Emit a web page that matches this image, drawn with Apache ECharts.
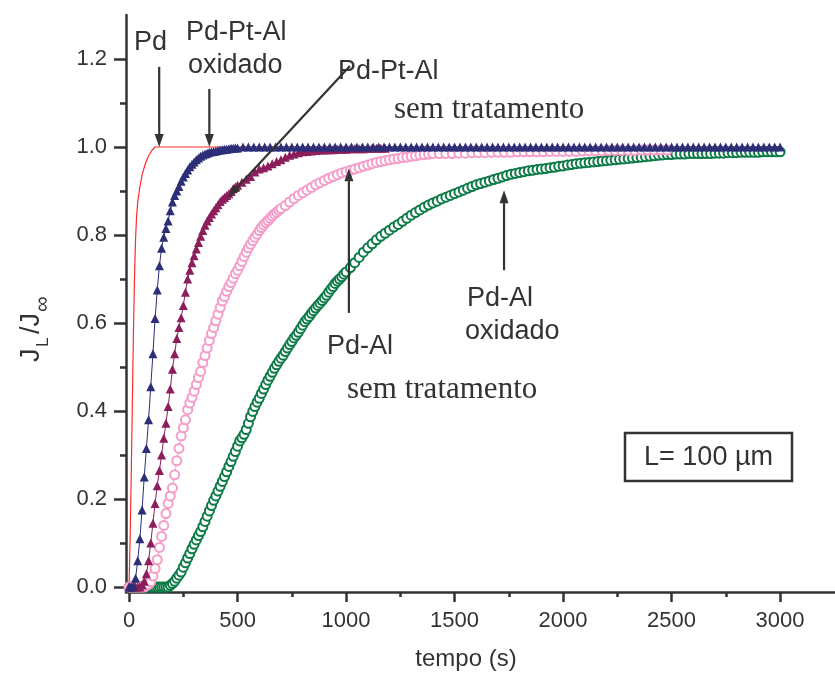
<!DOCTYPE html>
<html>
<head>
<meta charset="utf-8">
<script src="https://cdn.jsdelivr.net/npm/echarts@6/dist/echarts.min.js"></script>
<style>
html,body{margin:0;padding:0;background:#fff;}
#chart{width:835px;height:677px;}
</style>
</head>
<body>
<div id="chart"></div>
<script>
// ---- tick definitions ----
const xMajorTicks = [0, 500, 1000, 1500, 2000, 2500, 3000];
const xMinorTicks = [250, 750, 1250, 1750, 2250, 2750];
const yMajorTicks = [0, 0.2, 0.4, 0.6, 0.8, 1.0, 1.2];
const yMinorTicks = [0.1, 0.3, 0.5, 0.7, 0.9, 1.1];

// ---- data: [tempo (s), J_L/J_inf] ----
const pdData = [[0,0],[5,0.11],[10,0.25],[15,0.41],[20,0.57],[25,0.70],[30,0.79],[35,0.845],[40,0.875],[50,0.91],[60,0.936],[75,0.962],[90,0.98],[105,0.992],[120,1.0],[3000,1.0]];

const pdPtAlOxData = [[0,0],[10,0],[20,0.002],[30,0.02],[40,0.06],[50,0.11],[60,0.175],[70,0.25],[80,0.315],[90,0.38],[100,0.455],[110,0.53],[120,0.61],[130,0.675],[140,0.73],[150,0.77],[160,0.795],[170,0.815],[180,0.832],[190,0.855],[200,0.875],[210,0.89],[220,0.9],[230,0.91],[240,0.922],[250,0.932],[260,0.94],[270,0.948],[280,0.955],[290,0.961],[300,0.966],[310,0.971],[320,0.975],[330,0.979],[340,0.982],[350,0.984],[360,0.986],[370,0.988],[380,0.989],[390,0.99],[400,0.991],[410,0.992],[420,0.993],[430,0.994],[440,0.995],[450,0.995],[460,0.996],[470,0.997],[480,0.997],[490,0.998],[500,0.998],
[525,1],[550,1],[575,1],[600,1],[625,1],[650,1],[675,1],[700,1],[725,1],[750,1],[775,1],[800,1],[825,1],[850,1],[875,1],[900,1],[925,1],[950,1],[975,1],[1000,1],[1025,1],[1050,1],[1075,1],[1100,1],[1125,1],[1150,1],[1175,1],[1200,1],[1225,1],[1250,1],[1275,1],[1300,1],[1325,1],[1350,1],[1375,1],[1400,1],[1425,1],[1450,1],[1475,1],[1500,1],[1525,1],[1550,1],[1575,1],[1600,1],[1625,1],[1650,1],[1675,1],[1700,1],[1725,1],[1750,1],[1775,1],[1800,1],[1825,1],[1850,1],[1875,1],[1900,1],[1925,1],[1950,1],[1975,1],[2000,1],[2025,1],[2050,1],[2075,1],[2100,1],[2125,1],[2150,1],[2175,1],[2200,1],[2225,1],[2250,1],[2275,1],[2300,1],[2325,1],[2350,1],[2375,1],[2400,1],[2425,1],[2450,1],[2475,1],[2500,1],[2525,1],[2550,1],[2575,1],[2600,1],[2625,1],[2650,1],[2675,1],[2700,1],[2725,1],[2750,1],[2775,1],[2800,1],[2825,1],[2850,1],[2875,1],[2900,1],[2925,1],[2950,1],[2975,1],[3000,1]];

const pdPtAlData = [[0,0],[10,0],[20,0],[30,0],[40,0],[50,0],[60,0.005],[70,0.013],[80,0.03],[90,0.06],[100,0.1],[110,0.145],[120,0.19],[130,0.23],[140,0.265],[150,0.3],[160,0.338],[170,0.372],[180,0.41],[190,0.45],[200,0.495],[210,0.53],[220,0.565],[230,0.59],[240,0.612],[250,0.64],[260,0.67],[270,0.7],[280,0.72],[290,0.737],[300,0.753],[310,0.768],[320,0.783],[330,0.797],[340,0.81],[350,0.822],[360,0.832],[370,0.84],[380,0.848],[390,0.855],[400,0.862],[410,0.869],[420,0.876],[430,0.881],[440,0.885],[450,0.89],[460,0.894],[470,0.899],[480,0.905],[490,0.909],[500,0.913],[520,0.92],[540,0.927],[560,0.933],[580,0.943],[600,0.95],[620,0.953],[640,0.957],[660,0.962],[680,0.967],[700,0.971],[720,0.977],[740,0.981],[760,0.984],[780,0.987],[800,0.989],[820,0.99],[840,0.991],[860,0.992],[880,0.993],[900,0.993],[920,0.994],[940,0.994],[960,0.995],[980,0.995],[1000,0.995],[1020,0.996],[1040,0.996],[1060,0.996],[1080,0.996],[1100,0.997],[1120,0.997],[1140,0.997],[1160,0.997],[1180,0.997]];

const pdAlData = [[0,0],[10,0],[20,0],[30,0],[40,0],[50,0],[60,0],[70,0],[80,0.003],[90,0.006],[100,0.012],[110,0.025],[120,0.042],[130,0.062],[140,0.09],[150,0.115],[160,0.14],[170,0.167],[180,0.19],[190,0.207],[200,0.225],[210,0.255],[220,0.287],[230,0.315],[240,0.343],[250,0.362],[260,0.38],[270,0.403],[280,0.418],[290,0.431],[300,0.445],[310,0.46],[320,0.476],[330,0.49],[340,0.51],[350,0.526],[360,0.543],[370,0.56],[380,0.576],[390,0.59],[400,0.605],[410,0.62],[420,0.635],[430,0.65],[440,0.66],[450,0.672],[460,0.683],[470,0.692],[480,0.702],[490,0.712],[500,0.72],[510,0.73],[520,0.74],[530,0.751],[540,0.761],[550,0.771],[560,0.779],[570,0.787],[580,0.795],[590,0.802],[600,0.81],[610,0.817],[620,0.823],[630,0.828],[640,0.833],[650,0.838],[660,0.843],[670,0.848],[680,0.852],[690,0.856],[700,0.86],[720,0.867],[740,0.875],[760,0.883],[780,0.89],[800,0.896],[820,0.902],[840,0.908],[860,0.914],[880,0.919],[900,0.924],[920,0.929],[940,0.933],[960,0.937],[980,0.941],[1000,0.944],[1020,0.947],[1040,0.95],[1060,0.953],[1080,0.956],[1100,0.959],[1120,0.962],[1140,0.965],[1160,0.967],[1180,0.969],[1200,0.971],[1220,0.973],[1240,0.974],[1260,0.976],[1280,0.977],[1300,0.979],[1320,0.98],[1340,0.982],[1360,0.983],[1380,0.984],[1400,0.985],[1430,0.985],[1460,0.985],[1490,0.985],[1520,0.986],[1550,0.986],[1580,0.987],[1610,0.987],[1640,0.987],[1670,0.988],[1700,0.988],[1730,0.988],[1760,0.988],[1790,0.989],[1820,0.989],[1850,0.989],[1880,0.989],[1910,0.989],[1940,0.99],[1970,0.99],[2000,0.99],[2030,0.99],[2060,0.99],[2090,0.991],[2120,0.991],[2150,0.991],[2180,0.991],[2210,0.992],[2240,0.992],[2270,0.992],[2300,0.992],[2330,0.992],[2360,0.993],[2390,0.993],[2420,0.993],[2450,0.993],[2480,0.993]];

const pdAlOxData = [[0,0],[10,0],[20,0],[30,0],[40,0],[50,0],[60,0],[70,0],[80,0],[90,0],[100,0],[110,0],[120,0],[130,0],[140,0],[150,0],[160,0],[170,0],[180,0],[190,0.004],[200,0.008],[210,0.013],[220,0.02],[230,0.027],[240,0.034],[250,0.045],[260,0.055],[270,0.066],[280,0.076],[290,0.087],[300,0.097],[310,0.107],[320,0.117],[330,0.126],[340,0.137],[350,0.149],[360,0.161],[370,0.173],[380,0.185],[390,0.197],[400,0.207],[410,0.218],[420,0.229],[430,0.24],[440,0.251],[450,0.262],[460,0.274],[470,0.285],[480,0.297],[490,0.308],[500,0.32],[510,0.332],[520,0.339],[530,0.347],[540,0.358],[550,0.372],[560,0.387],[570,0.399],[580,0.41],[590,0.42],[600,0.429],[610,0.44],[620,0.45],[630,0.46],[640,0.47],[650,0.479],[660,0.488],[670,0.497],[680,0.505],[690,0.513],[700,0.52],[710,0.527],[720,0.535],[730,0.543],[740,0.551],[750,0.558],[760,0.566],[770,0.572],[780,0.579],[790,0.587],[800,0.595],[810,0.603],[820,0.609],[830,0.615],[840,0.622],[850,0.628],[860,0.634],[870,0.64],[880,0.645],[890,0.651],[900,0.657],[910,0.663],[920,0.67],[930,0.677],[940,0.683],[950,0.69],[960,0.695],[970,0.7],[980,0.705],[990,0.711],[1000,0.716],[1020,0.726],[1040,0.737],[1060,0.749],[1080,0.761],[1100,0.771],[1120,0.78],[1140,0.789],[1160,0.797],[1180,0.804],[1200,0.811],[1220,0.818],[1240,0.824],[1260,0.831],[1280,0.838],[1300,0.845],[1320,0.851],[1340,0.857],[1360,0.863],[1380,0.868],[1400,0.873],[1420,0.877],[1440,0.882],[1460,0.886],[1480,0.89],[1500,0.894],[1520,0.898],[1540,0.902],[1560,0.906],[1580,0.91],[1600,0.914],[1620,0.917],[1640,0.92],[1660,0.923],[1680,0.926],[1700,0.929],[1720,0.932],[1740,0.935],[1760,0.938],[1780,0.94],[1800,0.942],[1820,0.944],[1840,0.946],[1860,0.947],[1880,0.949],[1900,0.95],[1920,0.951],[1940,0.953],[1960,0.954],[1980,0.956],[2000,0.957],[2020,0.959],[2040,0.96],[2060,0.962],[2080,0.963],[2100,0.964],[2120,0.965],[2140,0.966],[2160,0.967],[2180,0.968],[2200,0.969],[2220,0.97],[2240,0.971],[2260,0.972],[2280,0.973],[2300,0.974],[2320,0.975],[2340,0.976],[2360,0.977],[2380,0.978],[2400,0.979],[2420,0.98],[2440,0.981],[2460,0.982],[2480,0.983],[2500,0.983],[2520,0.984],[2540,0.984],[2560,0.984],[2580,0.985],[2600,0.985],[2620,0.985],[2640,0.985],[2660,0.985],[2680,0.985],[2700,0.986],[2720,0.986],[2740,0.986],[2760,0.987],[2780,0.987],[2800,0.987],[2820,0.988],[2840,0.988],[2860,0.988],[2880,0.988],[2900,0.988],[2920,0.989],[2940,0.989],[2960,0.989],[2980,0.989],[3000,0.989]];

// annotation arrows in data coordinates: [x1,y1] tail -> [x2,y2] head
const arrowPd = [[139, 1.182], [139, 1.0]];
const arrowPdPtAlOx = [[370, 1.132], [370, 1.0]];
const arrowPdPtAl = [[1018, 1.184], [456, 0.886]];
const arrowPdAl = [[1013, 0.623], [1013, 0.952]];
const arrowPdAlOx = [[1728, 0.72], [1728, 0.902]];

const AXIS = '#333333';
const SANS = 'Liberation Sans, Arial, sans-serif';
const SERIF = 'Liberation Serif, Times New Roman, serif';
const X_MIN = -14, X_MAX = 3253, Y_MIN = -0.0113, Y_MAX = 1.3;

const chart = echarts.init(document.getElementById('chart'), null, {renderer: 'canvas'});

function xAxisBase(extra) {
  return Object.assign({
    type: 'value', min: X_MIN, max: X_MAX, position: 'bottom',
    splitLine: {show: false}
  }, extra);
}
function yAxisBase(extra) {
  return Object.assign({
    type: 'value', min: Y_MIN, max: Y_MAX, position: 'left',
    splitLine: {show: false}
  }, extra);
}

const option = {
  animation: false,
  backgroundColor: '#ffffff',
  grid: {left: 126, right: 0, top: 15, bottom: 85, containLabel: false},
  xAxis: [
    xAxisBase({
      axisLine: {show: true, onZero: false, lineStyle: {color: AXIS, width: 2.5}},
      axisTick: {show: true, customValues: xMajorTicks, length: 10, lineStyle: {color: AXIS, width: 2.5}},
      axisLabel: {show: true, customValues: xMajorTicks, margin: 18, fontSize: 22, color: AXIS, fontFamily: SANS,
        formatter: v => String(Math.round(v))}
    }),
    xAxisBase({
      axisLine: {show: false, onZero: false},
      axisTick: {show: true, customValues: xMinorTicks, length: 5, lineStyle: {color: AXIS, width: 2.5}},
      axisLabel: {show: false}
    })
  ],
  yAxis: [
    yAxisBase({
      axisLine: {show: true, onZero: false, lineStyle: {color: AXIS, width: 2.5}},
      axisTick: {show: true, customValues: yMajorTicks, length: 12, lineStyle: {color: AXIS, width: 2.5}},
      axisLabel: {show: true, customValues: yMajorTicks, margin: 19, fontSize: 22, color: AXIS, fontFamily: SANS,
        formatter: v => Number(v).toFixed(1)}
    }),
    yAxisBase({
      axisLine: {show: false, onZero: false},
      axisTick: {show: true, customValues: yMinorTicks, length: 6, lineStyle: {color: AXIS, width: 2.5}},
      axisLabel: {show: false}
    })
  ],
  series: [
    {name: 'Pd', type: 'line', data: pdData, showSymbol: false, symbol: 'none',
      lineStyle: {color: '#ff2a2a', width: 1.2}, z: 1},
    {name: 'Pd-Al oxidado', type: 'line', data: pdAlOxData, symbol: 'emptyCircle', symbolSize: 9,
      itemStyle: {color: '#0c7a46', borderColor: '#0c7a46', borderWidth: 1.5},
      lineStyle: {color: '#0c7a46', width: 1}, z: 2},
    {name: 'Pd-Al sem tratamento', type: 'line', data: pdAlData, symbol: 'emptyCircle', symbolSize: 9,
      itemStyle: {color: '#f59cc8', borderColor: '#f59cc8', borderWidth: 1.4},
      lineStyle: {color: '#f59cc8', width: 1}, z: 3},
    {name: 'Pd-Pt-Al sem tratamento', type: 'line', data: pdPtAlData, symbol: 'triangle', symbolSize: 9,
      itemStyle: {color: '#8b1e5b'},
      lineStyle: {color: '#8b1e5b', width: 1}, z: 4},
    {name: 'Pd-Pt-Al oxidado', type: 'line', data: pdPtAlOxData, symbol: 'triangle', symbolSize: 9,
      itemStyle: {color: '#2c2f78'},
      lineStyle: {color: '#2c2f78', width: 1}, z: 5}
  ]
};
chart.setOption(option);

function px(p) { return chart.convertToPixel({xAxisIndex: 0, yAxisIndex: 0}, p); }

function arrowGraphic(a) {
  const p1 = px(a[0]), p2 = px(a[1]);
  const dx = p2[0] - p1[0], dy = p2[1] - p1[1];
  const len = Math.sqrt(dx * dx + dy * dy);
  const ux = dx / len, uy = dy / len;
  const hl = 13, hw = 4.5;
  const bx = p2[0] - ux * hl, by = p2[1] - uy * hl;
  return [
    {type: 'line', shape: {x1: p1[0], y1: p1[1], x2: bx, y2: by},
      style: {stroke: AXIS, lineWidth: 2.2}, z: 100},
    {type: 'polygon', shape: {points: [[p2[0], p2[1]], [bx - uy * hw, by + ux * hw], [bx + uy * hw, by - ux * hw]]},
      style: {fill: AXIS}, z: 100}
  ];
}

function txt(text, x, y, size, family, align) {
  return {type: 'text', x: x, y: y, z: 100,
    style: {text: text, fontSize: size, fontFamily: family, fill: AXIS,
      align: align || 'left', verticalAlign: 'middle'}};
}

const graphics = [];
[arrowPd, arrowPdPtAlOx, arrowPdPtAl, arrowPdAl, arrowPdAlOx].forEach(a => graphics.push(...arrowGraphic(a)));
graphics.push(
  txt('Pd', 134, 42.5, 27, SANS),
  txt('Pd-Pt-Al', 186, 32.5, 27, SANS),
  txt('oxidado', 188, 65.5, 27, SANS),
  txt('Pd-Pt-Al', 338, 72, 27, SANS),
  txt('sem tratamento', 394, 109.5, 31, SERIF),
  txt('Pd-Al', 327, 347, 27, SANS),
  txt('sem tratamento', 347, 389.5, 31, SERIF),
  txt('Pd-Al', 467, 298.5, 27, SANS),
  txt('oxidado', 465, 331.5, 27, SANS),
  {type: 'rect', shape: {x: 625, y: 433, width: 167, height: 48}, style: {fill: '#fff', stroke: AXIS, lineWidth: 2.5}, z: 99},
  txt('L= 100 \u00b5m', 708.5, 457.5, 27, SANS, 'center'),
  txt('tempo (s)', 466, 659, 24, SANS, 'center'),
  {type: 'group', x: 41, y: 362, rotation: Math.PI / 2, z: 100, children: [
    {type: 'text', x: 0, y: -9.5, style: {text: 'J', fontSize: 27, fontFamily: SANS, fill: AXIS, verticalAlign: 'middle'}},
    {type: 'text', x: 15, y: 2, style: {text: 'L', fontSize: 17, fontFamily: SANS, fill: AXIS, verticalAlign: 'middle'}},
    {type: 'text', x: 28, y: -9.5, style: {text: '/J', fontSize: 27, fontFamily: SANS, fill: AXIS, verticalAlign: 'middle'}},
    {type: 'text', x: 50, y: 2, style: {text: '\u221e', fontSize: 22, fontFamily: SANS, fill: AXIS, verticalAlign: 'middle'}}
  ]}
);
chart.setOption({graphic: {elements: graphics}});
</script>
</body>
</html>
